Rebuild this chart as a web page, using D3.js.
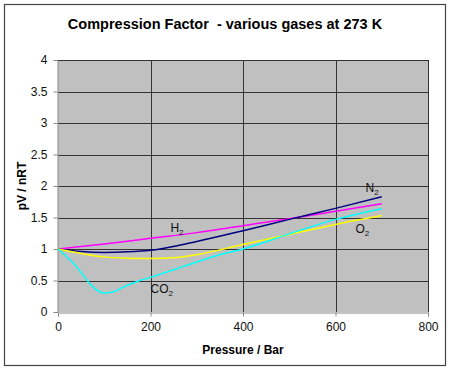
<!DOCTYPE html>
<html><head><meta charset="utf-8">
<script src="https://cdn.jsdelivr.net/npm/d3@7"></script>
<style>body{margin:0;background:#fff}svg{display:block;font-family:Arial,"Liberation Sans",sans-serif}</style>
</head><body>
<svg id="c" width="450" height="370"></svg>
<script>
const title = "Compression Factor  - various gases at 273 K";
const xTicks = [0, 200, 400, 600, 800];
const yTicks = [0, 0.5, 1, 1.5, 2, 2.5, 3, 3.5, 4];
const gases = ["H2", "N2", "O2", "CO2"];
const colors = ["#ff00ff", "#000080", "#ffff00", "#00ffff"];
const h2P = [0, 100, 200, 300, 400, 500, 600, 700];
const h2Z = [1.0, 1.08, 1.17, 1.26, 1.37, 1.48, 1.60, 1.72];
const n2P = [0, 50, 100, 150, 200, 300, 400, 500, 600, 700];
const n2Z = [1.0, 0.96, 0.945, 0.955, 0.98, 1.12, 1.29, 1.47, 1.645, 1.83];
const o2P = [0, 25, 50, 100, 150, 200, 250, 300, 400, 500, 600, 700];
const o2Z = [1.0, 0.965, 0.93, 0.875, 0.855, 0.85, 0.86, 0.91, 1.07, 1.23, 1.39, 1.53];
const co2P = [0, 20, 40, 60, 80, 100, 120, 140, 170, 200, 270, 340, 400, 500, 600, 700];
const co2Z = [1.0, 0.87, 0.72, 0.53, 0.37, 0.30, 0.32, 0.39, 0.48, 0.55, 0.72, 0.89, 1.0, 1.24, 1.47, 1.64];

const svg = d3.select("#c");
const L = 58, R = 428, T = 60, B = 312;
const x = d3.scaleLinear().domain([0, 800]).range([L, R]);
const y = d3.scaleLinear().domain([0, 4]).range([B, T]);

svg.append("rect").attr("x", 4.5).attr("y", 4.5).attr("width", 441).attr("height", 361)
  .attr("fill", "#fff").attr("stroke", "#444").attr("stroke-width", 1.2);

svg.append("rect").attr("x", L).attr("y", T).attr("width", R - L).attr("height", B - T).attr("fill", "#c0c0c0");

// gridlines
svg.append("g").selectAll("line").data(yTicks.filter(d => d > 0)).join("line")
  .attr("x1", L).attr("x2", R).attr("y1", d => Math.round(y(d)) + 0.5).attr("y2", d => Math.round(y(d)) + 0.5)
  .attr("stroke", "#333").attr("stroke-width", 1);
svg.append("g").selectAll("line").data(xTicks.filter(d => d > 0)).join("line")
  .attr("y1", T).attr("y2", B).attr("x1", d => Math.round(x(d)) + 0.5).attr("x2", d => Math.round(x(d)) + 0.5)
  .attr("stroke", "#333").attr("stroke-width", 1);

// axes
const xAxis = svg.append("g").attr("transform", `translate(0,${B + 0.5})`)
  .call(d3.axisBottom(x).tickValues(xTicks).tickSize(4).tickPadding(6));
const yAxis = svg.append("g").attr("transform", `translate(${L - 0.5},0)`)
  .call(d3.axisLeft(y).tickValues(yTicks).tickSize(4).tickPadding(6).tickFormat(d3.format("")));
[xAxis, yAxis].forEach(a => {
  a.select(".domain").attr("stroke", "#888");
  a.selectAll(".tick line").attr("stroke", "#888");
  a.selectAll("text").attr("font-size", 12).attr("fill", "#111").attr("font-family", "Arial, 'Liberation Sans', sans-serif");
});

// curves
const series = [[h2P, h2Z], [n2P, n2Z], [o2P, o2Z], [co2P, co2Z]];
const line = d3.line().x(d => x(d[0])).y(d => y(d[1])).curve(d3.curveMonotoneX);
series.forEach((s, i) => {
  const pts = s[0].map((p, j) => [p, s[1][j]]);
  svg.append("path").datum(pts).attr("d", line).attr("fill", "none")
    .attr("stroke", colors[i]).attr("stroke-width", 1.5);
});

// labels
const labs = [["H", "2", 243, 1.27], ["N", "2", 665, 1.90], ["O", "2", 643, 1.25], ["CO", "2", 200, 0.30]];
labs.forEach(l => {
  const t = svg.append("text").attr("x", x(l[2])).attr("y", y(l[3])).attr("font-size", 12).attr("fill", "#111");
  t.append("tspan").text(l[0]);
  t.append("tspan").attr("dy", 3).attr("font-size", 8).text(l[1]);
});

svg.append("text").attr("x", 225).attr("y", 29).attr("text-anchor", "middle")
  .style("white-space", "pre")
  .attr("font-size", 14.5).attr("font-weight", "bold").text(title);
svg.append("text").attr("x", (L + R) / 2).attr("y", 354).attr("text-anchor", "middle")
  .attr("font-size", 12).attr("font-weight", "bold").text("Pressure / Bar");
svg.append("text").attr("transform", `translate(26,${(T + B) / 2}) rotate(-90)`).attr("text-anchor", "middle")
  .attr("font-size", 12).attr("font-weight", "bold").text("pV / nRT");
</script>
</body></html>
